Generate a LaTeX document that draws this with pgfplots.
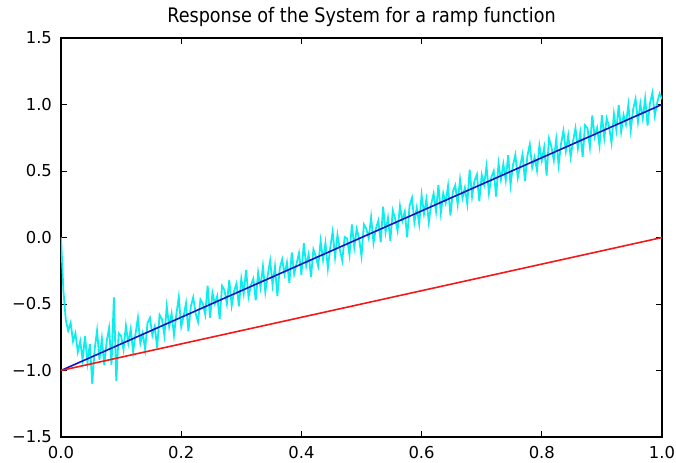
\documentclass[border=0pt]{standalone}
\usepackage{fontspec}
\setmainfont{DejaVu Sans}
\newfontfamily\titlefont{DejaVu Sans}[FakeStretch=0.88]
\usepackage{pgfplots}
\pgfplotsset{compat=1.18}
\definecolor{mplcyan}{rgb}{0.05,0.93,0.93}
\definecolor{mplblue}{rgb}{0.08,0.08,0.75}
\definecolor{mplred}{rgb}{0.95,0.1,0.1}

\pgfplotstableread{
x y
0.000 0.00
0.004 -0.40
0.008 -0.62
0.012 -0.70
0.016 -0.64
0.020 -0.78
0.024 -0.72
0.028 -0.86
0.032 -0.78
0.036 -0.92
0.040 -0.74
0.044 -0.94
0.048 -0.80
0.052 -1.10
0.056 -0.84
0.060 -0.70
0.064 -0.92
0.068 -0.76
0.072 -0.96
0.076 -0.78
0.080 -0.68
0.084 -0.96
0.088 -0.45
0.092 -1.08
0.096 -0.72
0.100 -0.740
0.104 -0.842
0.108 -0.664
0.112 -0.796
0.116 -0.688
0.120 -0.860
0.124 -0.722
0.128 -0.604
0.132 -0.796
0.136 -0.718
0.140 -0.840
0.144 -0.642
0.148 -0.604
0.152 -0.736
0.156 -0.668
0.160 -0.830
0.164 -0.582
0.168 -0.614
0.172 -0.736
0.176 -0.518
0.180 -0.670
0.184 -0.572
0.188 -0.734
0.192 -0.576
0.196 -0.448
0.200 -0.670
0.204 -0.592
0.208 -0.494
0.212 -0.706
0.216 -0.518
0.220 -0.450
0.224 -0.572
0.228 -0.634
0.232 -0.466
0.236 -0.498
0.240 -0.580
0.244 -0.362
0.248 -0.604
0.252 -0.416
0.256 -0.498
0.260 -0.440
0.264 -0.612
0.268 -0.364
0.272 -0.396
0.276 -0.498
0.280 -0.320
0.284 -0.512
0.288 -0.404
0.292 -0.346
0.296 -0.518
0.300 -0.310
0.304 -0.422
0.308 -0.244
0.312 -0.446
0.316 -0.358
0.320 -0.310
0.324 -0.472
0.328 -0.264
0.332 -0.376
0.336 -0.218
0.340 -0.410
0.344 -0.282
0.348 -0.174
0.352 -0.356
0.356 -0.218
0.360 -0.440
0.364 -0.232
0.368 -0.164
0.372 -0.276
0.376 -0.188
0.380 -0.340
0.384 -0.112
0.388 -0.274
0.392 -0.196
0.396 -0.118
0.400 -0.280
0.404 -0.042
0.408 -0.214
0.412 -0.126
0.416 -0.298
0.420 -0.090
0.424 -0.142
0.428 -0.214
0.432 -0.026
0.436 -0.168
0.440 -0.040
0.444 -0.232
0.448 -0.074
0.452 0.044
0.456 -0.148
0.460 0.020
0.464 -0.092
0.468 -0.174
0.472 0.004
0.476 -0.008
0.480 -0.130
0.484 0.098
0.488 -0.074
0.492 0.064
0.496 -0.008
0.500 -0.140
0.504 0.098
0.508 0.066
0.512 -0.006
0.516 0.152
0.520 -0.040
0.524 0.068
0.528 0.126
0.532 -0.036
0.536 0.232
0.540 0.040
0.544 0.148
0.548 -0.024
0.552 0.204
0.556 0.142
0.560 0.050
0.564 0.238
0.568 0.126
0.572 0.194
0.576 0.002
0.580 0.240
0.584 0.298
0.588 0.116
0.592 0.224
0.596 0.102
0.600 0.320
0.604 0.178
0.608 0.286
0.612 0.114
0.616 0.252
0.620 0.330
0.624 0.198
0.628 0.396
0.632 0.184
0.636 0.332
0.640 0.260
0.644 0.388
0.648 0.166
0.652 0.344
0.656 0.392
0.660 0.250
0.664 0.438
0.668 0.296
0.672 0.374
0.676 0.252
0.680 0.510
0.684 0.308
0.688 0.426
0.692 0.474
0.696 0.272
0.700 0.470
0.704 0.398
0.708 0.536
0.712 0.334
0.716 0.452
0.720 0.500
0.724 0.308
0.728 0.556
0.732 0.434
0.736 0.552
0.740 0.430
0.744 0.618
0.748 0.396
0.752 0.544
0.756 0.622
0.760 0.450
0.764 0.538
0.768 0.626
0.772 0.424
0.776 0.612
0.780 0.700
0.784 0.528
0.788 0.606
0.792 0.504
0.796 0.692
0.800 0.580
0.804 0.678
0.808 0.466
0.812 0.744
0.816 0.682
0.820 0.580
0.824 0.738
0.828 0.546
0.832 0.704
0.836 0.802
0.840 0.650
0.844 0.768
0.848 0.606
0.852 0.724
0.856 0.822
0.860 0.670
0.864 0.788
0.868 0.606
0.872 0.844
0.876 0.822
0.880 0.680
0.884 0.918
0.888 0.756
0.892 0.824
0.896 0.692
0.900 0.920
0.904 0.748
0.908 0.896
0.912 0.834
0.916 0.712
0.920 0.930
0.924 0.808
0.928 0.996
0.932 0.794
0.936 0.922
0.940 0.850
0.944 0.998
0.948 0.806
0.952 0.964
0.956 1.042
0.960 0.870
0.964 1.008
0.968 0.896
0.972 1.044
0.976 0.842
0.980 1.010
0.984 1.088
0.988 0.916
0.992 1.014
0.996 1.082
1.000 1.040
}\noisy

\begin{document}
\begin{tikzpicture}
\path[use as bounding box] (-30.5pt,-12.5pt) rectangle (307.5pt,218.5pt);
\begin{axis}[
  at={(0,0)}, anchor=south west,
  scale only axis, width=300.5pt, height=199.5pt,
  xmin=0, xmax=1, ymin=-1.5, ymax=1.5,
  xtick={0,0.2,0.4,0.6,0.8,1.0},
  xticklabels={0.0,0.2,0.4,0.6,0.8,1.0},
  ytick={-1.5,-1,-0.5,0,0.5,1,1.5},
  yticklabels={−1.5,−1.0,−0.5,0.0,0.5,1.0,1.5},
  minor tick num=0,
  tick align=inside,
  major tick length=3pt,
  tick style={black, line width=0.5pt},
  axis line style={black, line width=0.6pt},
  ticklabel style={font=\fontsize{8.2}{10}\selectfont},
  yticklabel style={xshift=-1pt},
  xticklabel style={yshift=-1pt},
  title={Response of the System for a ramp function},
  title style={at={(0.5,1)}, anchor=base, yshift=2pt, font=\titlefont\fontsize{10}{12}\selectfont},
]
\addplot[mplcyan, line width=0.9pt, no marks] table[x=x, y=y] {\noisy};
\addplot[mplblue, line width=0.8pt, no marks] coordinates {(0,-1) (1,1)};
\addplot[mplred, line width=0.8pt, no marks] coordinates {(0,-1) (1,0)};
\end{axis}
\end{tikzpicture}
\end{document}
